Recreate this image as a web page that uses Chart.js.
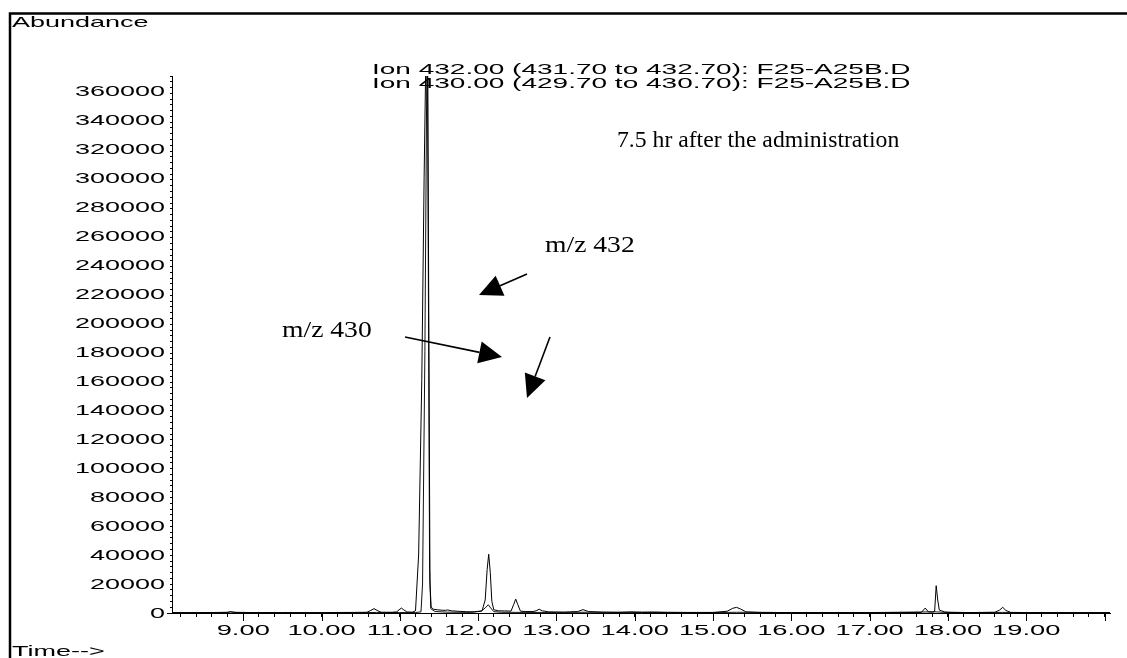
<!DOCTYPE html>
<html>
<head>
<meta charset="utf-8">
<script src="https://cdn.jsdelivr.net/npm/chart.js@4"></script>
<style>
  html, body { margin: 0; padding: 0; background: #fff; }
  #c { display: block; }
</style>
</head>
<body>
<canvas id="c" width="1127" height="658"></canvas>
<script>
// ---------- data ----------
const time432 = [
  8.09, 8.30, 8.50, 8.70, 8.80, 8.84, 8.88, 9.10, 9.50, 10.00,
  10.40, 10.58, 10.63, 10.67, 10.71, 10.76, 10.90, 10.96, 10.99, 11.02,
  11.05, 11.09, 11.16, 11.20, 11.24, 11.28, 11.31, 11.35, 11.37, 11.385,
  11.40, 11.43, 11.48, 11.54, 11.58, 11.61, 11.66, 11.74, 11.85, 11.95,
  12.05, 12.09, 12.115, 12.135, 12.155, 12.175, 12.20, 12.26, 12.34, 12.42,
  12.455, 12.48, 12.505, 12.54, 12.60, 12.70, 12.74, 12.78, 12.82, 12.90,
  13.10, 13.27, 13.34, 13.41, 13.60, 13.80, 13.95, 14.10, 14.25, 14.40,
  14.70, 15.00, 15.18, 15.25, 15.30, 15.35, 15.42, 15.60, 16.00, 16.50,
  17.00, 17.40, 17.66, 17.71, 17.75, 17.80, 17.83, 17.85, 17.87, 17.89,
  17.92, 17.96, 18.05, 18.30, 18.60, 18.66, 18.70, 18.74, 18.80, 19.00,
  19.40, 19.80, 20.07
];
const abund432 = [
  300, 300, 300, 400, 500, 900, 500, 300, 300, 300,
  400, 500, 1800, 3000, 1800, 500, 500, 800, 2200, 3400,
  2200, 700, 600, 1500, 40000, 160000, 300000, 450000, 200000, 20000,
  4000, 2600, 2200, 1900, 1800, 2100, 1500, 1200, 900, 800,
  1500, 9000, 30000, 40500, 28000, 8000, 2200, 1500, 1400, 1300,
  6000, 9600, 6000, 1300, 1000, 1000, 1500, 2600, 1500, 800,
  600, 1000, 2300, 1000, 600, 500, 800, 600, 700, 500,
  400, 400, 1200, 3200, 3900, 2800, 800, 400, 300, 300,
  300, 300, 400, 3400, 800, 600, 1000, 18800, 9000, 2000,
  1500, 700, 500, 300, 500, 2000, 3900, 1800, 400, 300,
  300, 300, 300
];
const time430 = [
  8.09, 8.40, 8.78, 8.84, 8.92, 9.50, 10.50, 10.70, 11.00, 11.20,
  11.27, 11.29, 11.32, 11.35, 11.365, 11.38, 11.395, 11.45, 11.60, 11.90,
  12.04, 12.09, 12.13, 12.16, 12.20, 12.30, 12.60, 13.00, 13.40, 13.90,
  14.50, 15.00, 15.30, 16.00, 17.00, 17.85, 18.00, 18.70, 19.50, 20.07
];
const abund430 = [
  200, 200, 300, 700, 300, 200, 200, 400, 300, 300,
  800, 20000, 180000, 420000, 220000, 30000, 3000, 1000, 600, 400,
  1200, 3500, 5700, 3500, 900, 500, 400, 400, 500, 400,
  300, 300, 500, 300, 300, 800, 300, 400, 200, 200
];
const xTickLabels = ['9.00','10.00','11.00','12.00','13.00','14.00','15.00','16.00','17.00','18.00','19.00'];
const yTickLabels = ['0','20000','40000','60000','80000','100000','120000','140000','160000','180000',
  '200000','220000','240000','260000','280000','300000','320000','340000','360000'];
const titleLines = ['Ion 432.00 (431.70 to 432.70): F25-A25B.D', 'Ion 430.00 (429.70 to 430.70): F25-A25B.D'];
const axisTitleY = 'Abundance';
const axisTitleX = 'Time-->';
const noteText = '7.5 hr after the administration';
const labelText432 = 'm/z 432';
const labelText430 = 'm/z 430';

// ---------- drawing ----------
const SANS = '"Liberation Sans", Arial, sans-serif';
const SERIF = '"Liberation Serif", "Times New Roman", serif';

function stretchedText(ctx, text, x, y, px, sx, align, baseline, family) {
  ctx.save();
  ctx.font = px + 'px ' + family;
  ctx.fillStyle = '#000';
  ctx.textAlign = align;
  ctx.textBaseline = baseline;
  ctx.translate(x, y);
  ctx.scale(sx, 1);
  ctx.fillText(text, 0, 0);
  ctx.restore();
}

function arrow(ctx, x1, y1, x2, y2) {
  const ang = Math.atan2(y2 - y1, x2 - x1);
  const hl = 23, hw = 11;
  const bx = x2 - hl * Math.cos(ang), by = y2 - hl * Math.sin(ang);
  ctx.save();
  ctx.strokeStyle = '#000';
  ctx.fillStyle = '#000';
  ctx.lineWidth = 1.6;
  ctx.beginPath();
  ctx.moveTo(x1, y1);
  ctx.lineTo(bx, by);
  ctx.stroke();
  ctx.beginPath();
  ctx.moveTo(x2, y2);
  ctx.lineTo(bx + hw * Math.sin(ang), by - hw * Math.cos(ang));
  ctx.lineTo(bx - hw * Math.sin(ang), by + hw * Math.cos(ang));
  ctx.closePath();
  ctx.fill();
  ctx.restore();
}

const decor = {
  id: 'decor',
  beforeDraw(chart) {
    const ctx = chart.ctx;
    ctx.save();
    ctx.fillStyle = '#fff';
    ctx.fillRect(0, 0, chart.width, chart.height);
    ctx.restore();
  },
  afterDraw(chart) {
    const ctx = chart.ctx;
    const xs = chart.scales.x, ys = chart.scales.y;
    const ca = chart.chartArea;

    // major ticks (longer)
    ctx.save();
    ctx.strokeStyle = '#000';
    ctx.lineWidth = 1;
    xs.ticks.forEach(t => {
      if (Math.abs(t.value - Math.round(t.value)) < 1e-6) {
        const px = Math.round(xs.getPixelForValue(t.value)) + 0.5;
        ctx.beginPath(); ctx.moveTo(px, ca.bottom); ctx.lineTo(px, ca.bottom + 8); ctx.stroke();
      }
    });
    ys.ticks.forEach(t => {
      if (Math.abs(t.value % 20000) < 1e-6) {
        const py = Math.round(ys.getPixelForValue(t.value)) + 0.5;
        ctx.beginPath(); ctx.moveTo(ca.left - 5, py); ctx.lineTo(ca.left, py); ctx.stroke();
      }
    });
    ctx.restore();

    // tick labels
    xTickLabels.forEach(l => {
      stretchedText(ctx, l, xs.getPixelForValue(Number(l)), 631, 14, 1.95, 'center', 'middle', SANS);
    });
    yTickLabels.forEach(l => {
      stretchedText(ctx, l, ca.left - 7, ys.getPixelForValue(Number(l)) + 1, 15, 1.8, 'right', 'middle', SANS);
    });

    // titles
    stretchedText(ctx, titleLines[0], 372, 74, 14, 2.0, 'left', 'alphabetic', SANS);
    stretchedText(ctx, titleLines[1], 372, 87.5, 14, 2.0, 'left', 'alphabetic', SANS);
    stretchedText(ctx, axisTitleY, 12, 27, 15, 1.8, 'left', 'alphabetic', SANS);
    stretchedText(ctx, axisTitleX, 12, 656, 15, 1.8, 'left', 'alphabetic', SANS);

    // annotations
    stretchedText(ctx, noteText, 617, 147, 23, 1.03, 'left', 'alphabetic', SERIF);
    stretchedText(ctx, labelText432, 545, 252, 24, 1.15, 'left', 'alphabetic', SERIF);
    stretchedText(ctx, labelText430, 282, 337, 24, 1.15, 'left', 'alphabetic', SERIF);
    arrow(ctx, 527, 274, 479, 295);
    arrow(ctx, 405, 337, 502, 357);
    arrow(ctx, 550, 337, 527, 398);

    // frame
    ctx.save();
    ctx.strokeStyle = '#000';
    ctx.lineWidth = 2.5;
    ctx.beginPath();
    ctx.moveTo(10, 658); ctx.lineTo(10, 13.5); ctx.lineTo(1127, 13.5);
    ctx.stroke();
    ctx.restore();
  }
};

const toPts = (xs, ys) => xs.map((x, i) => ({ x: x, y: ys[i] }));

new Chart(document.getElementById('c'), {
  type: 'line',
  data: {
    datasets: [
      { label: 'm/z 432', data: toPts(time432, abund432), borderColor: '#000', borderWidth: 1, pointRadius: 0, tension: 0, fill: false },
      { label: 'm/z 430', data: toPts(time430, abund430), borderColor: '#111', borderWidth: 1, pointRadius: 0, tension: 0, fill: false }
    ]
  },
  options: {
    responsive: false,
    animation: false,
    devicePixelRatio: 1,
    events: [],
    layout: { padding: { top: 76, right: 17, left: 0, bottom: 0 } },
    plugins: { legend: { display: false }, tooltip: { enabled: false }, title: { display: false } },
    scales: {
      x: {
        type: 'linear',
        min: 8.09, max: 20.07,
        ticks: { display: false, stepSize: 0.2, includeBounds: false },
        grid: { display: true, drawOnChartArea: false, drawTicks: true, tickLength: 4, color: '#000', tickWidth: 1 },
        border: { display: true, color: '#000', width: 1 },
        afterFit: s => { s.height = 45; }
      },
      y: {
        type: 'linear',
        min: 0, max: 370000,
        ticks: { display: false, stepSize: 4000, includeBounds: false },
        grid: { display: true, drawOnChartArea: false, drawTicks: true, tickLength: 2, color: '#000', tickWidth: 1 },
        border: { display: true, color: '#000', width: 1 },
        afterFit: s => { s.width = 172; }
      }
    }
  },
  plugins: [decor]
});
</script>
</body>
</html>
